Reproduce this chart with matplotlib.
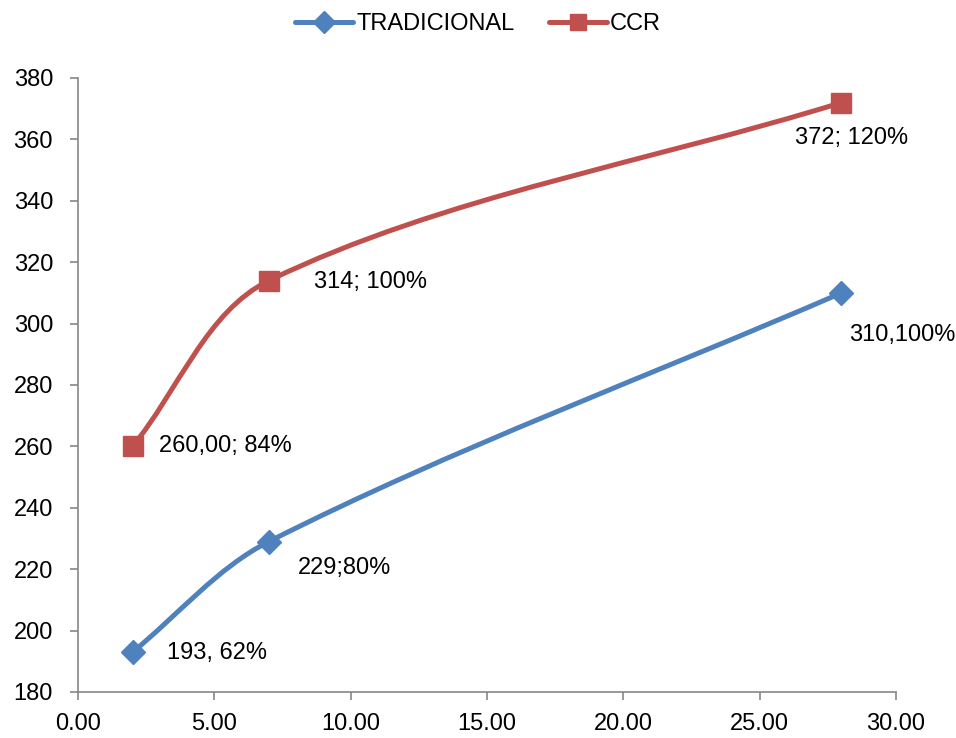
import numpy as np
import matplotlib.pyplot as plt
from matplotlib.path import Path
from matplotlib.patches import PathPatch
from matplotlib.lines import Line2D

plt.rcParams['font.family'] = ['Liberation Sans', 'DejaVu Sans']

x_trad = [2, 7, 28]
y_trad = [193, 229, 310]
lab_trad = ['193, 62%', '229;80%', '310,100%']

x_ccr = [2, 7, 28]
y_ccr = [260, 314, 372]
lab_ccr = ['260,00; 84%', '314; 100%', '372; 120%']

blue = '#4F81BD'
red = '#C0504D'
axis_gray = '#868686'

xlim = (0, 30)
ylim = (180, 380)
ax_w, ax_h = 818, 614  # axes size in pixels


def smooth_path(xs, ys):
    # bezier through every point, handles sized by neighbouring segment lengths
    # (done in pixel units so the curve shape does not depend on axis scaling)
    sx = ax_w / (xlim[1] - xlim[0])
    sy = ax_h / (ylim[1] - ylim[0])
    p = np.column_stack([np.array(xs) * sx, np.array(ys) * sy]).astype(float)
    n = len(p)
    d = [np.hypot(*(p[i + 1] - p[i])) for i in range(n - 1)]
    verts = [p[0]]
    codes = [Path.MOVETO]
    for i in range(n - 1):
        if i > 0:
            c1 = p[i] + (p[i + 1] - p[i - 1]) * d[i] / (d[i - 1] + d[i]) / 3.0
        else:
            c1 = p[i] + (p[i + 1] - p[i]) / 3.0
        if i + 2 < n:
            c2 = p[i + 1] - (p[i + 2] - p[i]) * d[i] / (d[i] + d[i + 1]) / 3.0
        else:
            c2 = p[i + 1] - (p[i + 1] - p[i]) / 3.0
        verts += [c1, c2, p[i + 1]]
        codes += [Path.CURVE4] * 3
    verts = np.array(verts) / [sx, sy]
    return Path(verts, codes)


fig = plt.figure(figsize=(9.56, 7.38), dpi=100)
ax = fig.add_axes([78 / 956, 1 - 692 / 738, ax_w / 956, ax_h / 738])

lw = 3.6
for xs, ys, col, mk, ms in [(x_trad, y_trad, blue, 'D', 12),
                            (x_ccr, y_ccr, red, 's', 14)]:
    ax.add_patch(PathPatch(smooth_path(xs, ys), facecolor='none',
                           edgecolor=col, lw=lw, capstyle='round', zorder=2))
    ax.plot(xs, ys, ls='none', marker=mk, ms=ms, color=col, zorder=3)

fs = 17
offs_trad = [(34, -1), (29, -26), (8, -42)]
offs_ccr = [(26, 0), (45, -1), (-46, -35)]
for xs, ys, labs, offs in [(x_trad, y_trad, lab_trad, offs_trad),
                           (x_ccr, y_ccr, lab_ccr, offs_ccr)]:
    for xv, yv, lab, off in zip(xs, ys, labs, offs):
        ax.annotate(lab, (xv, yv), xytext=off, textcoords='offset pixels',
                    ha='left', va='center', fontsize=fs, color='black')

ax.set_xlim(*xlim)
ax.set_ylim(*ylim)
ax.set_xticks(np.arange(0, 31, 5))
ax.set_xticklabels(['%.2f' % v for v in np.arange(0, 31, 5)])
ax.set_yticks(np.arange(180, 381, 20))
ax.tick_params(labelsize=fs, length=6, width=1.2, color=axis_gray, direction='out')
ax.tick_params(axis='y', pad=12)
ax.tick_params(axis='x', pad=9)
for side in ['top', 'right']:
    ax.spines[side].set_visible(False)
for side in ['left', 'bottom']:
    ax.spines[side].set_color(axis_gray)
    ax.spines[side].set_linewidth(1.2)

handles = [Line2D([], [], color=blue, lw=lw, marker='D', ms=11, solid_capstyle='round'),
           Line2D([], [], color=red, lw=lw, marker='s', ms=12, solid_capstyle='round')]
fig.legend(handles, ['TRADICIONAL', 'CCR'], loc='center', bbox_to_anchor=(0.5, 1 - 24 / 738),
           ncol=2, frameon=False, fontsize=fs, handlelength=2.45, handletextpad=0.13,
           columnspacing=1.45, numpoints=1)

fig.savefig('out.png', dpi=100)
